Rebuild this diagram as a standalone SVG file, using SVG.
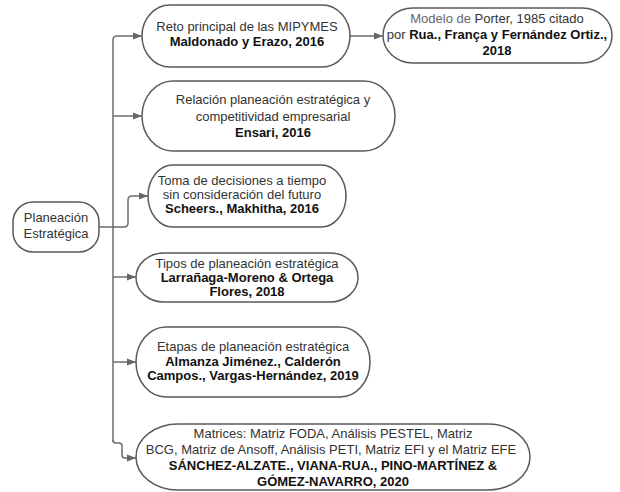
<svg xmlns="http://www.w3.org/2000/svg" width="620" height="492" viewBox="0 0 620 492">
  <defs>
    <marker id="arrow" markerUnits="userSpaceOnUse" markerWidth="10" markerHeight="8" refX="9" refY="4" orient="auto">
      <path d="M0,0.5 L9,4 L0,7.5 Z" fill="#666"/>
    </marker>
    <style>
      .node { fill: #fff; stroke: #5a5a5a; stroke-width: 1.5; }
      .conn { fill: none; stroke: #6b6b6b; stroke-width: 1.5; }
      .arr { marker-end: url(#arrow); }
      text { font-family: "Liberation Sans", Arial, sans-serif; font-size: 13px; fill: #333; text-anchor: middle; }
      .b { font-weight: bold; fill: #111; }
      .light { fill: #666; }
    </style>
  </defs>

  <rect width="620" height="492" fill="#fff"/>

  <!-- connectors -->
  <g id="connectors">
    <path class="conn arr" d="M113,442 V40 Q113,36 117,36 H142"/>
    <path class="conn arr" d="M113,116 H142"/>
    <path class="conn arr" d="M98,227 H124 Q128,227 128,223 V200 Q128,196 132,196 H148"/>
    <path class="conn arr" d="M113,277 H136"/>
    <path class="conn arr" d="M113,362 H136"/>
    <path class="conn arr" d="M113,440 Q113,443 116,443 H119 Q122,443 122,446 V455 Q122,458 125,458 H136"/>
    <path class="conn arr" d="M350,36 H383"/>
  </g>

  <!-- root -->
  <g id="planeacion">
    <rect class="node" x="13" y="202" width="86" height="50" rx="20" ry="20"/>
    <text x="56" y="222">Planeación</text>
    <text x="56" y="238">Estratégica</text>
  </g>

  <g id="reto">
    <path class="node" d="M170,5 H322 A28,31 0 0 1 322,67 H170 A28,31 0 0 1 170,5 Z"/>
    <text x="247" y="31">Reto principal de las MIPYMES</text>
    <text x="247" y="46" class="b">Maldonado y Erazo, 2016</text>
  </g>

  <g id="porter">
    <path class="node" d="M413,8 H582 A30,27.5 0 0 1 582,63 H413 A30,27.5 0 0 1 413,8 Z"/>
    <text x="497" y="23"><tspan class="light">Modelo de</tspan> Porter, 1985 citado</text>
    <text x="497" y="39">por <tspan class="b">Rua., França y Fernández Ortiz.,</tspan></text>
    <text x="497" y="55" class="b">2018</text>
  </g>

  <g id="relacion">
    <path class="node" d="M173,81 H364 A31,35 0 0 1 364,151 H173 A31,35 0 0 1 173,81 Z"/>
    <text x="273" y="104">Relación planeación estratégica y</text>
    <text x="273" y="121">competitividad empresarial</text>
    <text x="273" y="137" class="b">Ensari, 2016</text>
  </g>

  <g id="toma">
    <path class="node" d="M173,165 H321 A25,31 0 0 1 321,227 H173 A25,31 0 0 1 173,165 Z"/>
    <text x="242" y="185">Toma de decisiones a tiempo</text>
    <text x="242" y="199">sin consideración del futuro</text>
    <text x="242" y="213" class="b">Scheers., Makhitha, 2016</text>
  </g>

  <g id="tipos">
    <path class="node" d="M164,253 H330 A28,24.5 0 0 1 330,302 H164 A28,24.5 0 0 1 164,253 Z"/>
    <text x="247" y="268">Tipos de planeación estratégica</text>
    <text x="247" y="282" class="b">Larrañaga-Moreno &amp; Ortega</text>
    <text x="247" y="296" class="b">Flores, 2018</text>
  </g>

  <g id="etapas">
    <path class="node" d="M166,327 H340 A30,35 0 0 1 340,397 H166 A30,35 0 0 1 166,327 Z"/>
    <text x="253" y="351">Etapas de planeación estratégica</text>
    <text x="253" y="366" class="b">Almanza Jiménez., Calderón</text>
    <text x="253" y="380" class="b">Campos., Vargas-Hernández, 2019</text>
  </g>

  <g id="matrices">
    <path class="node" d="M178,424 H488 A42,33 0 0 1 488,490 H178 A42,33 0 0 1 178,424 Z"/>
    <text x="333" y="438">Matrices: Matriz FODA, Análisis PESTEL, Matriz</text>
    <text x="331" y="454">BCG, Matriz de Ansoff, Análisis PETI, Matriz EFI y el Matriz EFE</text>
    <text x="333" y="470" class="b">SÁNCHEZ-ALZATE., VIANA-RUA., PINO-MARTÍNEZ &amp;</text>
    <text x="333" y="486" class="b">GÓMEZ-NAVARRO, 2020</text>
  </g>
</svg>
